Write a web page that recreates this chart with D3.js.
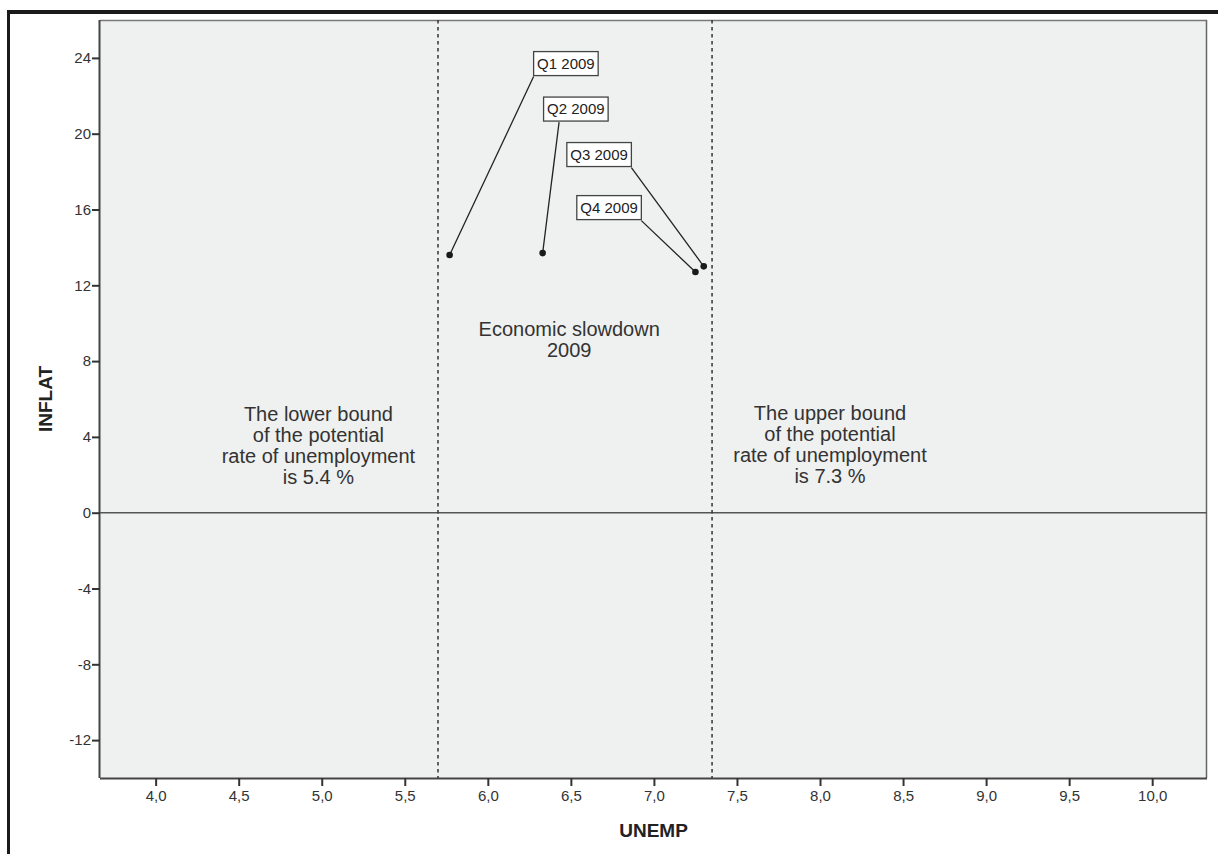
<!DOCTYPE html>
<html><head><meta charset="utf-8">
<script src="https://cdn.jsdelivr.net/npm/d3@7"></script>
<style>
body{margin:0;background:#fff}
svg{display:block}
text{font-family:"Liberation Sans",Arial,sans-serif}
</style></head><body>
<svg id="c" width="1219" height="854"></svg>
<script>
// ---- data ----
const quarters = ["Q1 2009", "Q2 2009", "Q3 2009", "Q4 2009"];
const unemp    = [5.77, 6.33, 7.30, 7.25];
const inflat   = [13.6, 13.7, 13.0, 12.7];
// label box centres (data units) and where the leader leaves the box bottom (0=left,1=right)
const labelX   = [6.47, 6.53, 6.67, 6.73];
const labelY   = [23.7, 21.3, 18.9, 16.1];
const attach   = [0.0, 0.24, 1.0, 1.0];
const xTicks   = [4.0, 4.5, 5.0, 5.5, 6.0, 6.5, 7.0, 7.5, 8.0, 8.5, 9.0, 9.5, 10.0];
const yTicks   = [-12, -8, -4, 0, 4, 8, 12, 16, 20, 24];
const refLinesX = [5.7, 7.35];
const noteTexts = [
  ["Economic slowdown", "2009"],
  ["The lower bound", "of the potential", "rate of unemployment", "is 5.4 %"],
  ["The upper bound", "of the potential", "rate of unemployment", "is 7.3 %"]
];
const noteX = [6.49, 4.98, 8.06];
const noteY = [9.32, 4.83, 4.87];
const xDomain = [3.665, 10.33];
const yDomain = [-14, 26];

// ---- layout ----
const L = 100, T = 20, R = 1207, B = 778;
const svg = d3.select("#c");
const x = d3.scaleLinear().domain(xDomain).range([L, R]);
const y = d3.scaleLinear().domain(yDomain).range([B, T]);

// outer black frame (partial, as in the cropped original)
svg.append("rect").attr("x", 7).attr("y", 10).attr("width", 1211).attr("height", 4).attr("fill", "#1a1a1a");
svg.append("rect").attr("x", 7).attr("y", 10).attr("width", 3).attr("height", 844).attr("fill", "#1a1a1a");

// plot background
svg.append("rect").attr("x", L).attr("y", T).attr("width", R - L).attr("height", B - T)
  .attr("fill", "#eff0f0");
// top & right border
svg.append("line").attr("x1", L).attr("x2", R).attr("y1", T + 0.5).attr("y2", T + 0.5)
  .attr("stroke", "#7a7a7a").attr("stroke-width", 1.5);
svg.append("line").attr("x1", R - 0.5).attr("x2", R - 0.5).attr("y1", T).attr("y2", B)
  .attr("stroke", "#666").attr("stroke-width", 1.5);

// axes
const xAxis = d3.axisBottom(x).tickValues(xTicks).tickSize(8).tickPadding(4)
  .tickFormat(d => d.toFixed(1).replace(".", ","));
const gx = svg.append("g").attr("transform", `translate(0,${B})`).call(xAxis);
const yAxis = d3.axisLeft(y).tickValues(yTicks).tickSize(8).tickPadding(1)
  .tickFormat(d => String(d));
const gy = svg.append("g").attr("transform", `translate(${L},0)`).call(yAxis);
[gx, gy].forEach(g => {
  g.select(".domain").attr("stroke", "#444").attr("stroke-width", 2);
  g.selectAll(".tick line").attr("stroke", "#333").attr("stroke-width", 2);
  g.selectAll(".tick text").attr("fill", "#333").style("font-size", "15px")
    .style("font-family", '"Liberation Sans",Arial,sans-serif');
});
gx.select(".domain").attr("d", `M${L},0.5H${R}`);
gy.select(".domain").attr("d", `M-0.5,${T}V${B}`);

// zero line
svg.append("line").attr("x1", L).attr("x2", R).attr("y1", y(0)).attr("y2", y(0))
  .attr("stroke", "#555").attr("stroke-width", 1.5);

// reference lines
svg.selectAll(".ref").data(refLinesX).enter().append("line")
  .attr("x1", d => x(d)).attr("x2", d => x(d)).attr("y1", T).attr("y2", B)
  .attr("stroke", "#333").attr("stroke-width", 1.5).attr("stroke-dasharray", "3.5,3.5");

// notes
noteTexts.forEach((lines, i) => {
  const t = svg.append("text").attr("text-anchor", "middle").attr("fill", "#333")
    .style("font-size", "20px");
  lines.forEach((s, j) => {
    t.append("tspan").attr("x", x(noteX[i])).attr("y", y(noteY[i]) + j * 21).text(s);
  });
});

// axis titles
svg.append("text").attr("x", (L + R) / 2).attr("y", 837).attr("text-anchor", "middle")
  .attr("fill", "#222").style("font-size", "19px").style("font-weight", "bold").text("UNEMP");
svg.append("text").attr("transform", `translate(52,${(T + B) / 2}) rotate(-90)`)
  .attr("text-anchor", "middle").attr("fill", "#222").style("font-size", "19px")
  .style("font-weight", "bold").text("INFLAT");

// labels with leaders
const pts = quarters.map((q, i) => ({q, ux: unemp[i], iy: inflat[i], lx: labelX[i], ly: labelY[i], a: attach[i]}));
pts.forEach(p => {
  const g = svg.append("g");
  const txt = g.append("text").attr("x", x(p.lx)).attr("y", y(p.ly) + 5)
    .attr("text-anchor", "middle").attr("fill", "#222").style("font-size", "15px").text(p.q);
  const bb = txt.node().getBBox();
  const bx = bb.x - 3.5, bw = bb.width + 7, by = y(p.ly) - 12, bh = 24;
  g.insert("rect", "text").attr("x", bx).attr("y", by).attr("width", bw).attr("height", bh)
    .attr("fill", "#fff").attr("stroke", "#444").attr("stroke-width", 1.3);
  svg.append("line").attr("x1", bx + p.a * bw).attr("y1", by + bh + 1)
    .attr("x2", x(p.ux)).attr("y2", y(p.iy)).attr("stroke", "#222").attr("stroke-width", 1.3);
});
svg.selectAll(".pt").data(pts).enter().append("circle")
  .attr("cx", d => x(d.ux)).attr("cy", d => y(d.iy)).attr("r", 3.3).attr("fill", "#1a1a1a");
</script>
</body></html>
